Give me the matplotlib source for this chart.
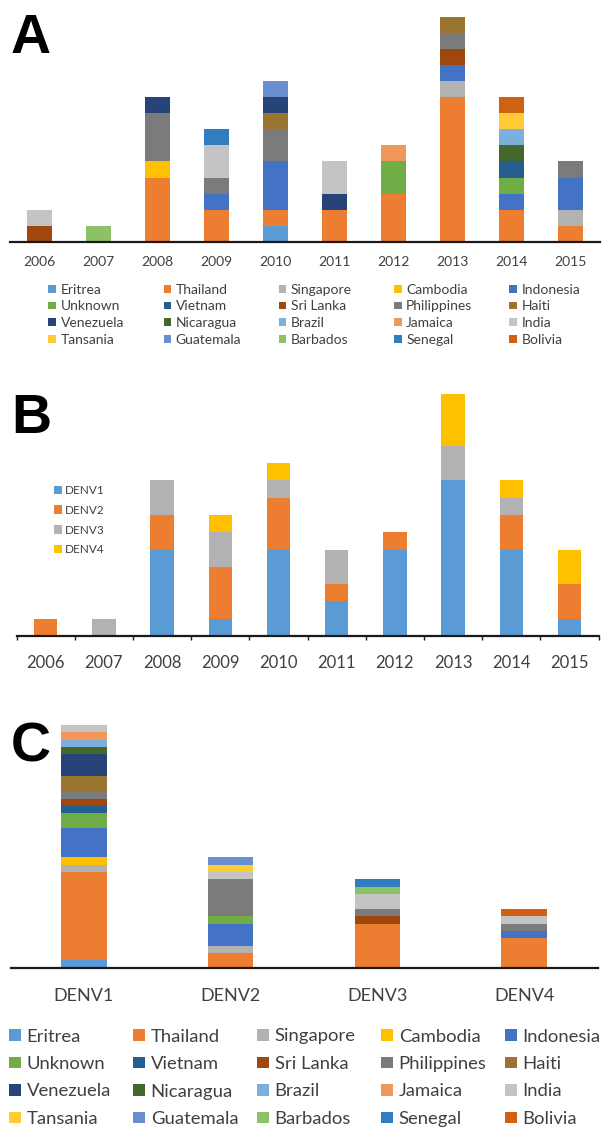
import matplotlib
matplotlib.use("Agg")
from matplotlib import pyplot as plt
from matplotlib.patches import Rectangle
import numpy as np

plt.rcParams['font.family'] = ['Lato', 'DejaVu Sans']

years = ['2006', '2007', '2008', '2009', '2010', '2011', '2012', '2013', '2014', '2015']
serotypes = ['DENV1', 'DENV2', 'DENV3', 'DENV4']
countries = ['Eritrea', 'Thailand', 'Singapore', 'Cambodia', 'Indonesia',
             'Unknown', 'Vietnam', 'Sri Lanka', 'Philippines', 'Haiti',
             'Venezuela', 'Nicaragua', 'Brazil', 'Jamaica', 'India',
             'Tansania', 'Guatemala', 'Barbados', 'Senegal', 'Bolivia']

# cases per country, per year 2006..2015
by_year = [
    [0, 0, 0, 0, 1, 0, 0, 0, 0, 0],  # Eritrea
    [0, 0, 4, 2, 1, 2, 3, 9, 2, 1],  # Thailand
    [0, 0, 0, 0, 0, 0, 0, 1, 0, 1],  # Singapore
    [0, 0, 1, 0, 0, 0, 0, 0, 0, 0],  # Cambodia
    [0, 0, 0, 1, 3, 0, 0, 1, 1, 2],  # Indonesia
    [0, 0, 0, 0, 0, 0, 2, 0, 1, 0],  # Unknown
    [0, 0, 0, 0, 0, 0, 0, 0, 1, 0],  # Vietnam
    [1, 0, 0, 0, 0, 0, 0, 1, 0, 0],  # Sri Lanka
    [0, 0, 3, 1, 2, 0, 0, 1, 0, 1],  # Philippines
    [0, 0, 0, 0, 1, 0, 0, 1, 0, 0],  # Haiti
    [0, 0, 1, 0, 1, 1, 0, 0, 0, 0],  # Venezuela
    [0, 0, 0, 0, 0, 0, 0, 0, 1, 0],  # Nicaragua
    [0, 0, 0, 0, 0, 0, 0, 0, 1, 0],  # Brazil
    [0, 0, 0, 0, 0, 0, 1, 0, 0, 0],  # Jamaica
    [1, 0, 0, 2, 0, 2, 0, 0, 0, 0],  # India
    [0, 0, 0, 0, 0, 0, 0, 0, 1, 0],  # Tansania
    [0, 0, 0, 0, 1, 0, 0, 0, 0, 0],  # Guatemala
    [0, 1, 0, 0, 0, 0, 0, 0, 0, 0],  # Barbados
    [0, 0, 0, 1, 0, 0, 0, 0, 0, 0],  # Senegal
    [0, 0, 0, 0, 0, 0, 0, 0, 1, 0],  # Bolivia
]

# serotype per year
denv_by_year = [
    [0, 0, 5, 1, 5, 2, 5, 9, 5, 1],  # DENV1
    [1, 0, 2, 3, 3, 1, 1, 0, 2, 2],  # DENV2
    [0, 1, 2, 2, 1, 2, 0, 2, 1, 0],  # DENV3
    [0, 0, 0, 1, 1, 0, 0, 3, 1, 2],  # DENV4
]

# cases per country, per serotype DENV1..DENV4
by_serotype = [
    [1, 0, 0, 0], [12, 2, 6, 4], [1, 1, 0, 0], [1, 0, 0, 0], [4, 3, 0, 1],
    [2, 1, 0, 0], [1, 0, 0, 0], [1, 0, 1, 0], [1, 5, 1, 1], [2, 0, 0, 0],
    [3, 0, 0, 0], [1, 0, 0, 0], [1, 0, 0, 0], [1, 0, 0, 0], [1, 1, 2, 1],
    [0, 1, 0, 0], [0, 1, 0, 0], [0, 0, 1, 0], [0, 0, 1, 0], [0, 0, 0, 1],
]

country_colors = ['#5B9BD5', '#ED7D31', '#B2B2B2', '#FFC000', '#4472C4',
                  '#70AD47', '#255E91', '#9E480E', '#7B7B7B', '#997330',
                  '#264478', '#43682B', '#7CAFDD', '#F1975A', '#C4C4C4',
                  '#FFCD33', '#698ED0', '#8CC168', '#327DC2', '#D26012']
denv_colors = ['#5B9BD5', '#ED7D31', '#B2B2B2', '#FFC000']
txt = '#404040'

W, H = 603, 1127
fig = plt.figure(figsize=(W / 100, H / 100), dpi=100)


def fx(px):
    return px / W


def fy(py):
    return 1 - py / H


def stacked(ax, values, colors, width):
    n = len(values[0])
    bottom = np.zeros(n)
    for vals, col in zip(values, colors):
        vals = np.array(vals, dtype=float)
        ax.bar(np.arange(n), vals, width, bottom=bottom, color=col, linewidth=0)
        bottom += vals


def style(ax, labels, size, pad):
    for s in ['top', 'right', 'left']:
        ax.spines[s].set_visible(False)
    ax.spines['bottom'].set_linewidth(1.6)
    ax.spines['bottom'].set_color('#1a1a1a')
    ax.set_yticks([])
    ax.set_xticks(range(len(labels)))
    ax.set_xticklabels(labels, fontsize=size, color=txt, va='center')
    ax.tick_params(axis='x', which='major', length=0, pad=pad)
    ax.set_xlim(-0.5, len(labels) - 0.5)


def legend_grid(x0, pitch, rows_y, sq, size, gap):
    for i, (name, col) in enumerate(zip(countries, country_colors)):
        r, c = divmod(i, 5)
        x = x0 + c * pitch
        y = rows_y[r]
        fig.patches.append(Rectangle((fx(x), fy(y + sq / 2)), sq / W, sq / H,
                                     transform=fig.transFigure, color=col, lw=0))
        fig.text(fx(x + sq + gap), fy(y), name, fontsize=size, color=txt,
                 va='center_baseline', ha='left')


# panel A: country by year
axA = fig.add_axes([fx(10), fy(241.7), fx(590), (241.7 - 17) / H])
stacked(axA, by_year, country_colors, 0.41)
axA.set_ylim(0, 14)
style(axA, years, 10, 14.5)
legend_grid(48.3, 115.2, [289, 305.5, 322, 339], 7.7, 10, 4.5)

# panel B: serotype by year
axB = fig.add_axes([fx(16.6), fy(636), fx(582), 242 / H])
stacked(axB, denv_by_year, denv_colors, 0.4)
axB.set_ylim(0, 14)
style(axB, years, 12, 19.5)
axB.set_xticks(np.arange(-0.5, 10.5, 1), minor=True)
axB.tick_params(axis='x', which='minor', length=3, width=1, color='#1a1a1a')
for i, (name, col) in enumerate(zip(serotypes, denv_colors)):
    y = 490 + i * 19.6
    fig.patches.append(Rectangle((fx(53.5), fy(y + 4.3)), 8.6 / W, 8.6 / H,
                                 transform=fig.transFigure, color=col, lw=0))
    fig.text(fx(65), fy(y), name, fontsize=8.5, color=txt,
             va='center_baseline', ha='left')

# panel C: country by serotype
axC = fig.add_axes([fx(10.6), fy(967.7), fx(587), 242.7 / H])
stacked(axC, by_serotype, country_colors, 0.31)
axC.set_ylim(0, 33)
style(axC, serotypes, 13, 20.5)
legend_grid(9.3, 124, [1035, 1062.5, 1090, 1117.3], 11.4, 13.3, 6)

for lab, yb in [('A', 53), ('B', 433), ('C', 761)]:
    fig.text(fx(11), fy(yb), lab, fontsize=40, fontweight='bold',
             family='Liberation Sans', va='baseline', ha='left')

fig.savefig('out.png', dpi=100)
